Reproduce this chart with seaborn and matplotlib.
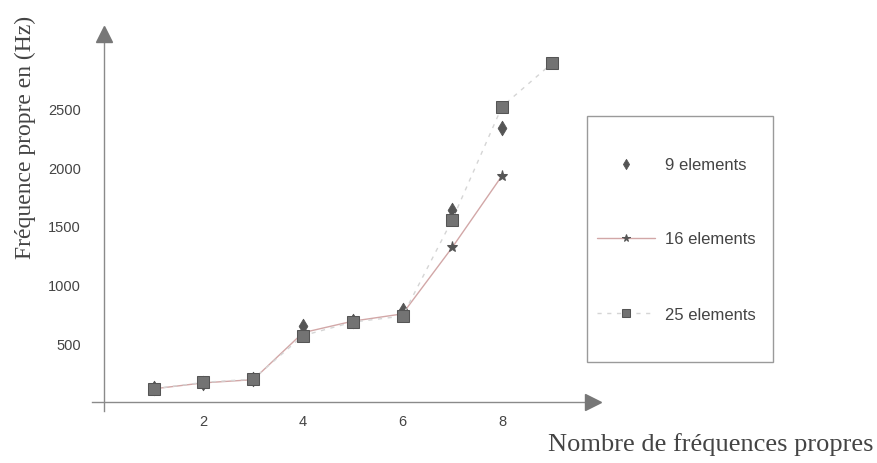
import seaborn as sns
import matplotlib.pyplot as plt
from matplotlib.patches import Rectangle

# valeurs (Hz)
modes_9 = [1, 2, 3, 4, 5, 6, 7, 8]
freq_9 = [115, 165, 195, 650, 690, 782, 1636, 2333]
modes_16 = [1, 2, 3, 4, 5, 6, 7, 8]
freq_16 = [112, 163, 190, 590, 688, 750, 1316, 1926]
modes_25 = [1, 2, 3, 4, 5, 6, 7, 8, 9]
freq_25 = [113, 167, 195, 565, 680, 731, 1551, 2514, 2881]
series_labels = ["9 elements", "16 elements", "25 elements"]
x_ticks = [2, 4, 6, 8]
y_ticks = [500, 1000, 1500, 2000, 2500]

sns.set_style("white")
plt.rcParams["font.family"] = ["Liberation Sans", "DejaVu Sans"]

axis_col = "#8a8a8a"
txt_col = "#444444"

fig = plt.figure(figsize=(8.77, 4.64), dpi=100)
ax = fig.add_axes([80 / 877, 44 / 464, 530 / 877, 390 / 464])
ax.set_xlim(-0.482, 10.17)
ax.set_ylim(-144.7, 3174.5)

# courbes
sns.lineplot(x=modes_16, y=freq_16, ax=ax, color="#d2a7a7", lw=1.0,
             marker="*", markersize=8, markerfacecolor="#555555",
             markeredgecolor="#555555", label=series_labels[1], zorder=3)
sns.lineplot(x=modes_25, y=freq_25, ax=ax, color="#d5d5d5", lw=1.0, ls=(0, (3, 4)),
             marker="s", markersize=9, markerfacecolor="#737373",
             markeredgecolor="#555555", label=series_labels[2], zorder=5)
sns.scatterplot(x=modes_9, y=freq_9, ax=ax, marker="d", s=55, color="#555555",
                edgecolor="#555555", label=series_labels[0], zorder=4)

# axes style Mathematica avec fleches
for side in ["top", "right"]:
    ax.spines[side].set_visible(False)
ax.spines["bottom"].set_position(("data", 0))
ax.spines["left"].set_position(("data", 0))
ax.spines["bottom"].set_bounds(-0.24, 9.7)
ax.spines["left"].set_bounds(-74, 3075)
for side in ["bottom", "left"]:
    ax.spines[side].set_color(axis_col)
    ax.spines[side].set_linewidth(1.0)
ax.plot(9.83, 0, marker=">", ms=12, color="#777777", clip_on=False, zorder=6)
ax.plot(0, 3136, marker="^", ms=12, color="#777777", clip_on=False, zorder=6)

ax.set_xticks(x_ticks)
ax.set_xticks([v / 2 for v in range(1, 20)], minor=True)
ax.set_yticks(y_ticks)
ax.set_yticks(list(range(100, 3001, 100)), minor=True)
ax.tick_params(which="major", direction="inout", length=5, width=0.8,
               color=axis_col, labelcolor=txt_col, labelsize=10.5)
ax.tick_params(which="minor", direction="inout", length=3, width=0.7, color=axis_col)
ax.tick_params(axis="x", pad=6)
ax.tick_params(axis="y", pad=14)
ax.grid(False)

# titres des axes
fig.text(25 / 877, 1 - 137 / 464, "Fréquence propre en (Hz)", rotation=90,
         ha="center", va="center", fontsize=17, color=txt_col,
         family=["Liberation Serif", "DejaVu Serif"])
fig.text(548 / 877, 1 - 445 / 464, "Nombre de fréquences propres",
         ha="left", va="center", fontsize=19, color=txt_col,
         family=["Liberation Serif", "DejaVu Serif"])

# legende dans un cadre
handles, labels = ax.get_legend_handles_labels()
order = [labels.index(l) for l in series_labels]
ax.get_legend().remove()
fig.patches.append(Rectangle((587 / 877, 1 - 363 / 464), 186 / 877, 246 / 464,
                             transform=fig.transFigure, fill=False,
                             edgecolor="#9a9a9a", lw=1.0))
fig.legend([handles[i] for i in order], series_labels, frameon=False,
           loc="center left", bbox_to_anchor=(597 / 877, 1 - 240 / 464),
           borderpad=0, borderaxespad=0, handlelength=3.5, handletextpad=0.6,
           labelspacing=3.6, fontsize=12, labelcolor=txt_col, markerscale=0.7)

fig.savefig("out.png", dpi=100)
